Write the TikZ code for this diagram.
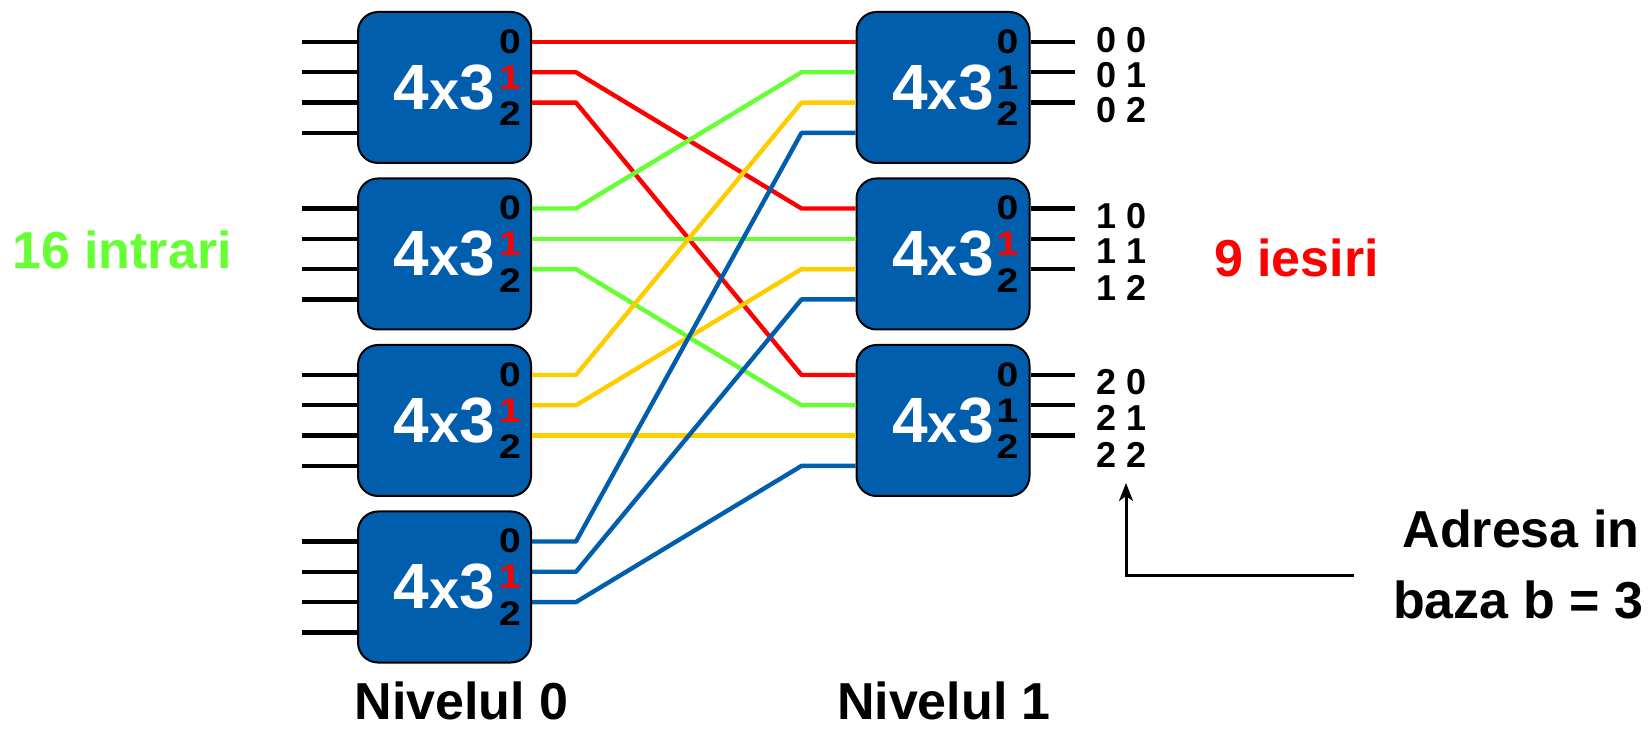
\documentclass[tikz,border=0pt]{standalone}
\usepackage{fontspec}
\setmainfont{Liberation Sans}
\usetikzlibrary{calc,arrows.meta}
\definecolor{boxblue}{RGB}{0,94,172}
\definecolor{wred}{RGB}{255,0,0}
\definecolor{wgreen}{RGB}{102,255,51}
\definecolor{wyellow}{RGB}{255,204,0}
\definecolor{wblue}{RGB}{0,94,172}
\newcommand{\wdig}[1]{\scalebox{1.15}[1]{#1}}

\begin{document}
\begin{tikzpicture}[x=0.5pt,y=-0.5pt,
  switchbox/.style={draw=black, line width=1pt, fill=boxblue, rounded corners=10pt,
    minimum width=86.5pt, minimum height=75.5pt, inner sep=0pt, text=white,
    font=\bfseries\fontsize{32}{32}\selectfont},
  portlbl/.style={inner sep=0pt, font=\bfseries\fontsize{17}{17}\selectfont},
  addrlbl/.style={anchor=west, inner sep=0pt, font=\bfseries\fontsize{18}{18}\selectfont},
  biglbl/.style={inner sep=0pt, anchor=base, font=\bfseries\fontsize{26}{26}\selectfont},
  wire/.style={line width=2.2pt},
  link/.style={line width=2.2pt, line join=round}
]
\useasboundingbox (0,0) rectangle (1650,732);

% Level 0: four 4x3 switches with four inputs each
\foreach \i in {1,...,4} {
  \pgfmathsetmacro\T{12+166.5*(\i-1)}
  \node[switchbox] (L\i) at (444.5,\T+75.5) {4{\fontsize{27}{27}\selectfont x}3};
  \foreach \k in {0,...,3} {
    \coordinate (Li\i\k) at ($(L\i.west)+(0,-45.5+30.3*\k)$);
    \coordinate (Ls\i\k) at ($(Li\i\k)+(-55,0)$);
    \draw[wire] (Ls\i\k) -- (Li\i\k);
  }
  \foreach \k in {0,1,2} {
    \coordinate (Lo\i\k) at ($(L\i.east)+(0,-45.5+30.3*\k)$);
  }
  \node[portlbl] (Lp\i0) at ($(L\i.east)+(-22,-46)$) {\wdig{0}};
  \node[portlbl, text=wred] (Lp\i1) at ($(L\i.east)+(-22,-10)$) {\wdig{1}};
  \node[portlbl] (Lp\i2) at ($(L\i.east)+(-22,26.5)$) {\wdig{2}};
}

% Level 1: three 4x3 switches with their outputs and addresses
\foreach \j/\a/\b/\c/\mc in {0/-47.5/-12.5/22.5/black, 1/-38/-2.5/34/wred, 2/-38/-2.5/34/black} {
  \pgfmathsetmacro\T{12+166.5*\j}
  \node[switchbox] (R\j) at (943,\T+75.5) {4{\fontsize{27}{27}\selectfont x}3};
  \foreach \k in {0,...,3} {
    \coordinate (Ri\j\k) at ($(R\j.west)+(0,-45.5+30.3*\k)$);
  }
  \foreach \k in {0,1,2} {
    \coordinate (Ro\j\k) at ($(R\j.east)+(0,-45.5+30.3*\k)$);
    \coordinate (Re\j\k) at ($(Ro\j\k)+(44,0)$);
    \draw[wire] (Ro\j\k) -- (Re\j\k);
  }
  \node[portlbl] (Rp\j0) at ($(R\j.east)+(-23,-46)$) {\wdig{0}};
  \node[portlbl, text=\mc] (Rp\j1) at ($(R\j.east)+(-23,-10)$) {\wdig{1}};
  \node[portlbl] (Rp\j2) at ($(R\j.east)+(-23,26.5)$) {\wdig{2}};
  \node[addrlbl] (A\j0) at ($(R\j.east)+(66,\a)$) {\j\ 0};
  \node[addrlbl] (A\j1) at ($(R\j.east)+(66,\b)$) {\j\ 1};
  \node[addrlbl] (A\j2) at ($(R\j.east)+(66,\c)$) {\j\ 2};
}

% Perfect-shuffle links: output k of switch i goes to input i of switch k
\foreach \i/\col in {1/wred, 2/wgreen, 3/wyellow, 4/wblue} {
  \pgfmathtruncatemacro\m{\i-1}
  \foreach \k in {0,1,2} {
    \draw[link, \col] (Lo\i\k) -- ++(44,0) -- ($(Ri\k\m)+(-54,0)$) -- (Ri\k\m);
  }
}

% Titles
\node[biglbl, text=wgreen] (inlbl) at (122,269) {16 intrari};
\node[biglbl, text=wred] (outlbl) at (1296.5,277) {9 iesiri};
\node[biglbl] (lvl0) at (461.5,719) {Nivelul 0};
\node[biglbl] (lvl1) at (944,719) {Nivelul 1};
\node[biglbl] (addr1) at (1521,548) {Adresa in};
\node[biglbl] (addr2) at (1518,618) {baza b = 3};

% Pointer to the address digits
\coordinate (atail) at (1354,576);
\coordinate (atip) at (1126,483);
\draw[line width=1.5pt, -{Stealth[length=9pt,width=7pt,inset=2.5pt]}] (atail) -| (atip);
\end{tikzpicture}
\end{document}
